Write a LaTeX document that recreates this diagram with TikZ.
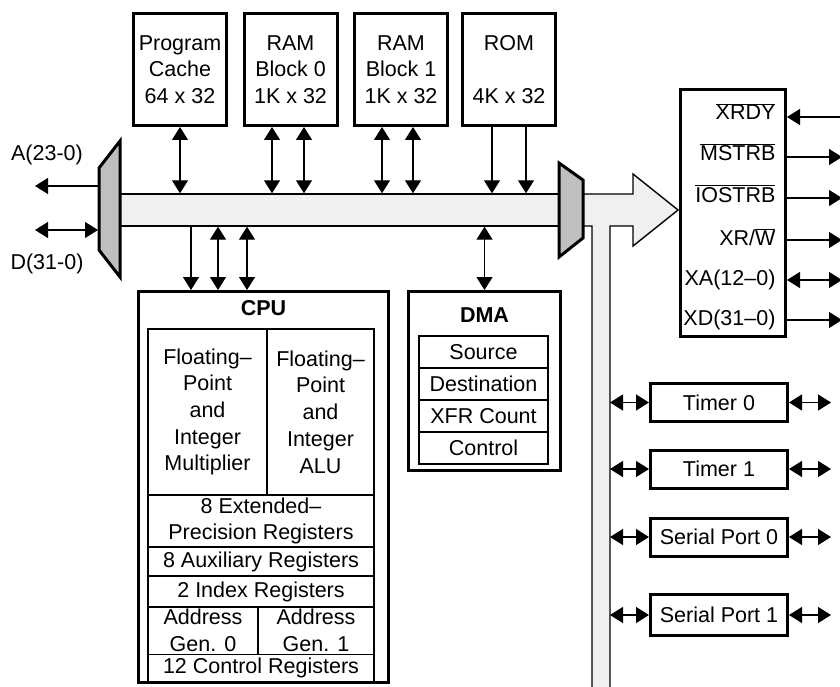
\documentclass[tikz,border=0pt]{standalone}
\usepackage{fontspec}
\setmainfont{Liberation Sans}
\usepackage{tikz}
\usetikzlibrary{positioning,arrows.meta}

\begin{document}
\begin{tikzpicture}[x=1pt,y=-1pt,>={Triangle[length=13pt,width=16pt]},
  font=\fontsize{21.5pt}{26.7pt}\selectfont,
  memblk/.style={draw,line width=3pt,minimum width=93pt,minimum height=112pt,align=center,inner sep=0pt},
  unitbox/.style={draw,line width=3pt,inner sep=0pt},
  cell/.style={draw,line width=1.2pt,inner sep=0pt,align=center},
  link/.style={line width=1.3pt},
  busfill/.style={draw,fill=gray!12,line width=1.4pt},
  muxfill/.style={draw,fill=gray!50,line width=3pt,line join=miter}]
\useasboundingbox (0,0) rectangle (840,687);

% buses
\node[busfill,minimum width=439pt,minimum height=32pt,inner sep=0pt] (bus) at (339.5,210) {};
\draw[busfill] (583,194) -- (633,194) -- (633,174) -- (678,210) -- (633,246) -- (633,226) -- (610,226) -- (610,690) -- (592,690) -- (592,226) -- (583,226);
\coordinate (vbus) at (610,400);
\draw[muxfill] (99,168) -- (120,141) -- (120,277) -- (99,250) -- cycle;
\draw[muxfill] (559,163) -- (583,180) -- (583,238) -- (559,257) -- cycle;

% external bus on the left
\node (alab) at (47,155) {A(23-0)};
\node (dlab) at (47,264) {D(31-0)};
\coordinate (aIn) at (98,186);
\coordinate (aOut) at (35,186);
\coordinate (dIn) at (98,230);
\coordinate (dOut) at (35,230);
\draw[->,link] (aIn) -- (aOut);
\draw[<->,link] (dIn) -- (dOut);

% memories
\node[memblk] (pc) at (180,69.5) {Program\\Cache\\64 x 32};
\node[memblk] (ram0) at (290.5,69.5) {RAM\\Block 0\\1K x 32};
\node[memblk] (ram1) at (401,69.5) {RAM\\Block 1\\1K x 32};
\node[memblk] (rom) at (509,69.5) {ROM\\\mbox{}\\4K x 32};
\draw[<->,link] (pc.south) -- (pc.south |- bus.north);
\draw[<->,link] ([xshift=-18.5pt]ram0.south) -- ([xshift=-18.5pt]ram0.south |- bus.north);
\draw[<->,link] ([xshift=13.5pt]ram0.south) -- ([xshift=13.5pt]ram0.south |- bus.north);
\draw[<->,link] ([xshift=-19pt]ram1.south) -- ([xshift=-19pt]ram1.south |- bus.north);
\draw[<->,link] ([xshift=12pt]ram1.south) -- ([xshift=12pt]ram1.south |- bus.north);
\draw[->,link] ([xshift=-17pt]rom.south) -- ([xshift=-17pt]rom.south |- bus.north);
\draw[->,link] ([xshift=17pt]rom.south) -- ([xshift=17pt]rom.south |- bus.north);

% CPU
\node[unitbox,minimum width=250pt,minimum height=391pt] (cpu) at (263.5,487) {};
\node[font=\fontsize{21.5pt}{26.7pt}\selectfont\bfseries] (cputitle) at (263.5,308) {CPU};
\node[cell,minimum width=119pt,minimum height=166pt] (mult) at (207.5,412) {Floating--\\Point\\and\\Integer\\Multiplier};
\node[cell,minimum width=107pt,minimum height=166pt] (alu) at (320.5,412) {Floating--\\Point\\and\\Integer\\ALU};
\node[cell,minimum width=226pt,minimum height=52pt] (ext) at (261,521) {8 Extended--\\Precision Registers};
\node[cell,minimum width=226pt,minimum height=29pt] (aux) at (261,561.5) {8 Auxiliary Registers};
\node[cell,minimum width=226pt,minimum height=31pt] (idx) at (261,591.5) {2 Index Registers};
\node[cell,minimum width=110pt,minimum height=48pt] (ag0) at (203,630.5) {Address\\Gen. 0};
\node[cell,minimum width=116pt,minimum height=48pt] (ag1) at (316,630.5) {Address\\Gen. 1};
\node[cell,minimum width=226pt,minimum height=27pt] (ctl) at (261,668) {12 Control Registers};
\draw[->,link] ([xshift=-72.5pt]cpu.north |- bus.south) -- ([xshift=-72.5pt]cpu.north);
\draw[<->,link] ([xshift=-45.5pt]cpu.north |- bus.south) -- ([xshift=-45.5pt]cpu.north);
\draw[<->,link] ([xshift=-16.5pt]cpu.north |- bus.south) -- ([xshift=-16.5pt]cpu.north);

% DMA
\node[unitbox,minimum width=152pt,minimum height=179pt] (dma) at (484.5,381) {};
\node[font=\fontsize{21.5pt}{26.7pt}\selectfont\bfseries] (dmatitle) at (484.5,315) {DMA};
\node[cell,minimum width=129pt,minimum height=32pt] (src) at (483.5,352) {Source};
\node[cell,minimum width=129pt,minimum height=32pt] (dst) at (483.5,384) {Destination};
\node[cell,minimum width=129pt,minimum height=32pt] (cnt) at (483.5,416) {XFR Count};
\node[cell,minimum width=129pt,minimum height=32pt] (ctrl) at (483.5,448) {Control};
\draw[<->,link] (dma.north |- bus.south) -- (dma.north);

% external interface
\node[unitbox,minimum width=105pt,minimum height=247pt] (xbus) at (733,213) {};
\node[anchor=base east] (xrdy) at (779,120) {$\overline{\mbox{XRDY}}$};
\node[anchor=base east] (mstrb) at (779,161) {$\overline{\mbox{MSTRB}}$};
\node[anchor=base east] (iostrb) at (779,202) {$\overline{\mbox{IOSTRB}}$};
\node[anchor=base east] (xrw) at (779,245) {XR/$\overline{\mbox{W}}$};
\node[anchor=base east] (xa) at (779,285) {XA(12--0)};
\node[anchor=base east] (xd) at (779,325) {XD(31--0)};
\coordinate (xrdyEnd) at (842,117);
\coordinate (mstrbEnd) at (842,157);
\coordinate (iostrbEnd) at (842,198);
\coordinate (xrwEnd) at (842,240);
\coordinate (xaEnd) at (842,280);
\coordinate (xdEnd) at (842,320);
\draw[->,link] (xrdyEnd) -- (xbus.east |- xrdyEnd);
\draw[->,link] (xbus.east |- mstrbEnd) -- (mstrbEnd);
\draw[->,link] (xbus.east |- iostrbEnd) -- (iostrbEnd);
\draw[->,link] (xbus.east |- xrwEnd) -- (xrwEnd);
\draw[<->,link] (xbus.east |- xaEnd) -- (xaEnd);
\draw[->,link] (xbus.east |- xdEnd) -- (xdEnd);

% peripherals
\node[unitbox,minimum width=137pt,minimum height=38pt] (t0) at (719,402.5) {Timer 0};
\node[unitbox,minimum width=137pt,minimum height=38pt] (t1) at (719,469) {Timer 1};
\node[unitbox,minimum width=137pt,minimum height=38pt] (sp0) at (719,537) {Serial Port 0};
\node[unitbox,minimum width=137pt,minimum height=41pt] (sp1) at (719,615) {Serial Port 1};
\draw[<->,link] (t0.west -| vbus) -- (t0.west);
\draw[<->,link] (t0.east) -- ([xshift=42pt]t0.east);
\draw[<->,link] (t1.west -| vbus) -- (t1.west);
\draw[<->,link] (t1.east) -- ([xshift=42pt]t1.east);
\draw[<->,link] (sp0.west -| vbus) -- (sp0.west);
\draw[<->,link] (sp0.east) -- ([xshift=42pt]sp0.east);
\draw[<->,link] (sp1.west -| vbus) -- (sp1.west);
\draw[<->,link] (sp1.east) -- ([xshift=42pt]sp1.east);
\end{tikzpicture}
\end{document}
